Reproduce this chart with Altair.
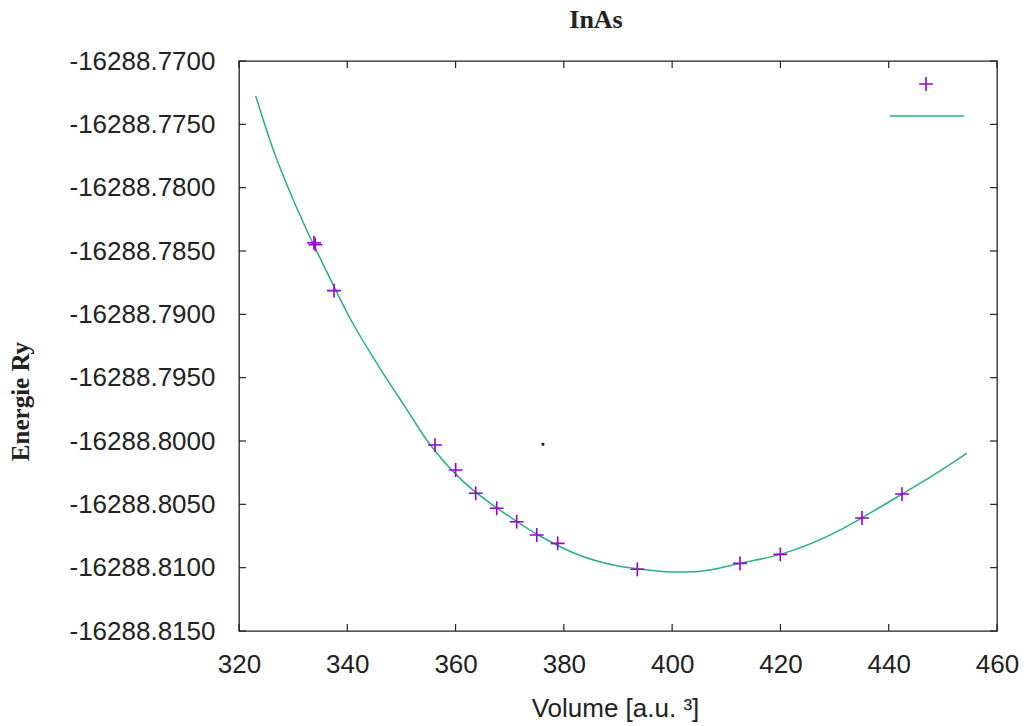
import altair as alt
import pandas as pd

# Measured total energies (Ry) at each cell volume (a.u.^3)
volumes = [333.85, 334.10, 337.55, 356.20, 360.02, 363.72, 367.60, 371.29,
           374.99, 378.86, 393.57, 412.53, 419.98, 435.07, 442.46]
energies = [-16288.78435, -16288.78450, -16288.78813, -16288.80032, -16288.80229,
            -16288.80413, -16288.80531, -16288.80637, -16288.80742, -16288.80808,
            -16288.81013, -16288.80966, -16288.80895, -16288.80608, -16288.80419]

# Fitted equation-of-state curve
fit_volumes = [323.08, 326.34, 330.03, 332.50, 336.20, 340.50, 346.04, 350.66,
               354.67, 361.43, 368.21, 375.60, 382.98, 389.13, 396.46, 400.00,
               403.85, 408.80, 412.53, 419.98, 431.00, 436.55, 442.46, 448.55,
               454.46]
fit_energies = [-16288.77276, -16288.77703, -16288.78097, -16288.78334, -16288.78663,
                -16288.79031, -16288.79426, -16288.79729, -16288.79992, -16288.80321,
                -16288.80545, -16288.80750, -16288.80904, -16288.80979, -16288.81022,
                -16288.81034, -16288.81032, -16288.81003, -16288.80966, -16288.80895,
                -16288.80703, -16288.80569, -16288.80419, -16288.80261, -16288.80095]

# Stray point
dot_volumes = [376.15]
dot_energies = [-16288.80026]

x_ticks = [320, 340, 360, 380, 400, 420, 440, 460]
y_ticks = [-16288.770, -16288.775, -16288.780, -16288.785, -16288.790,
           -16288.795, -16288.800, -16288.805, -16288.810, -16288.815]

W, H = 758, 570
INK = "#222222"
PURPLE = "#9400d3"
GREEN = "#2aae86"
SANS = "Liberation Sans"
SERIF = "Liberation Serif"

xs = alt.Scale(domain=[320, 460], nice=False, zero=False)
ys = alt.Scale(domain=[-16288.815, -16288.770], nice=False, zero=False)

pts = pd.DataFrame({"Volume": volumes, "Energie": energies})
fit = pd.DataFrame({"Volume": fit_volumes, "Energie": fit_energies})
dot = pd.DataFrame({"Volume": dot_volumes, "Energie": dot_energies})
xt = pd.DataFrame({"Volume": x_ticks})
yt = pd.DataFrame({"Energie": y_ticks})
one = pd.DataFrame({"k": [0]})

x_axis = alt.Axis(
    values=x_ticks, format="d", grid=False, ticks=False, tickSize=0, domain=False,
    labelFont=SANS, labelFontSize=26, labelColor=INK, labelPadding=20,
    labelFlush=False, labelOverlap=False,
    title="Volume [a.u. ³]", titleFont=SANS, titleFontSize=26,
    titleFontWeight="normal", titleColor=INK, titleX=376, titleY=85,
    titleBaseline="alphabetic", titleAlign="center",
)
y_axis = alt.Axis(
    values=y_ticks, grid=False, ticks=False, tickSize=0, domain=False,
    labelExpr="'-' + format(abs(datum.value), '.4f')",
    labelFont=SANS, labelFontSize=26, labelColor=INK, labelPadding=24,
    labelFlush=False, labelOverlap=False,
    title="Energie Ry", titleFont=SERIF, titleFontSize=25, titleFontWeight="bold",
    titleColor=INK, titleAngle=270, titleX=-211, titleY=340,
    titleBaseline="alphabetic", titleAlign="center",
)


def X():
    return alt.X("Volume:Q", scale=xs, axis=x_axis)


def Y():
    return alt.Y("Energie:Q", scale=ys, axis=y_axis)


curve = alt.Chart(fit).mark_line(
    color=GREEN, strokeWidth=1.5, interpolate="monotone"
).encode(x=X(), y=Y(), order="Volume:Q")

plus = "M -1 0 L 1 0 M 0 -1 L 0 1"
points = alt.Chart(pts).mark_point(
    shape=plus, size=190, filled=False, color=PURPLE, strokeWidth=1.6, opacity=1
).encode(x=X(), y=Y())

stray = alt.Chart(dot).mark_square(size=7, color="#111111", opacity=1).encode(
    x=X(), y=Y()
)

# Inward ticks on all four sides of the frame
tick_len = 7
bottom_ticks = alt.Chart(xt).mark_rule(color=INK, strokeWidth=1.2).encode(
    x=X(), y=alt.value(H), y2=alt.value(H - tick_len),
)
top_ticks = alt.Chart(xt).mark_rule(color=INK, strokeWidth=1.2).encode(
    x=X(), y=alt.value(0), y2=alt.value(tick_len),
)
left_ticks = alt.Chart(yt).mark_rule(color=INK, strokeWidth=1.2).encode(
    y=Y(), x=alt.value(0), x2=alt.value(tick_len),
)
right_ticks = alt.Chart(yt).mark_rule(color=INK, strokeWidth=1.2).encode(
    y=Y(), x=alt.value(W), x2=alt.value(W - tick_len),
)

# Key samples (no entry labels)
key_plus = alt.Chart(one).mark_point(
    shape=plus, size=190, filled=False, color=PURPLE, strokeWidth=1.6, opacity=1
).encode(x=alt.value(687), y=alt.value(23))
key_line = alt.Chart(one).mark_rule(color=GREEN, strokeWidth=1.5).encode(
    x=alt.value(651), x2=alt.value(725), y=alt.value(55)
)

title = alt.Chart(one).mark_text(
    text="InAs", font=SERIF, fontSize=26, fontWeight="bold", color=INK,
    align="center", baseline="alphabetic",
).encode(x=alt.value(357), y=alt.value(-33))

chart = alt.layer(
    curve, points, stray, bottom_ticks, top_ticks, left_ticks, right_ticks,
    key_plus, key_line, title,
).properties(
    width=W, height=H,
    autosize=alt.AutoSizeParams(type="none"),
    padding={"left": 239, "top": 61, "right": 29, "bottom": 95},
    background="white",
).configure_view(stroke=INK, strokeWidth=1.3)

chart.save("out.html", embed_options={"renderer": "svg", "actions": False})
